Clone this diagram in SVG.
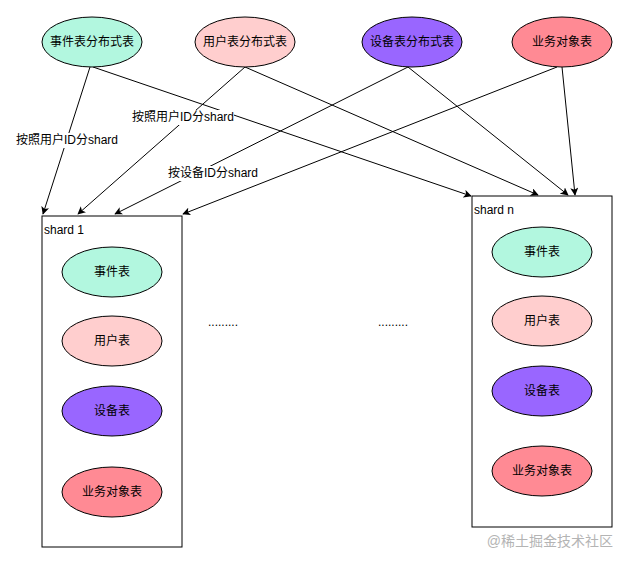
<svg xmlns="http://www.w3.org/2000/svg" width="629" height="563" viewBox="0 0 629 563">
<defs>
<marker id="arr" viewBox="0 0 10 10" refX="9" refY="5" markerWidth="8" markerHeight="8" markerUnits="userSpaceOnUse" orient="auto">
<path d="M0,0 L10,5 L0,10 L2.5,5 Z" fill="#000"/>
</marker>
</defs>
<style>
text{font-family:"Liberation Sans","Noto Sans CJK SC",sans-serif;font-size:12px;fill:#000}
.c{text-anchor:middle;dominant-baseline:central}
.e{stroke:#000;stroke-width:1}
.ev{fill:#b2f7df}.us{fill:#ffcece}.de{fill:#9966ff}.bo{fill:#ff8a94}
.ln{stroke:#000;stroke-width:1;fill:none;marker-end:url(#arr)}
.box{fill:#fff;stroke:#000;stroke-width:1}
.lb{fill:#fff}
</style>
<rect width="629" height="563" fill="#fff"/>
<g id="connectors">
<line class="ln" x1="90" y1="67" x2="43" y2="214"/>
<line class="ln" x1="93" y1="67" x2="471" y2="196"/>
<line class="ln" x1="245" y1="67" x2="78" y2="214"/>
<line class="ln" x1="245" y1="67" x2="538" y2="195"/>
<line class="ln" x1="408" y1="67" x2="115" y2="214"/>
<line class="ln" x1="408" y1="67" x2="568" y2="195"/>
<line class="ln" x1="557" y1="67" x2="183" y2="214"/>
<line class="ln" x1="562" y1="67" x2="575" y2="195"/>
<rect class="lb" x="15" y="133" width="103" height="15"/>
<text x="16" y="140" dominant-baseline="central">按照用户ID分shard</text>
<rect class="lb" x="131" y="110" width="103" height="15"/>
<text x="132" y="117" dominant-baseline="central">按照用户ID分shard</text>
<rect class="lb" x="167" y="166" width="91" height="15"/>
<text x="168" y="173" dominant-baseline="central">按设备ID分shard</text>
</g>
<g id="n-event-dist"><ellipse class="e ev" cx="92" cy="42" rx="50" ry="25"/><text class="c" x="92" y="42">事件表分布式表</text></g>
<g id="n-user-dist"><ellipse class="e us" cx="245" cy="42" rx="50" ry="25"/><text class="c" x="245" y="42">用户表分布式表</text></g>
<g id="n-device-dist"><ellipse class="e de" cx="412" cy="42" rx="50" ry="25"/><text class="c" x="412" y="42">设备表分布式表</text></g>
<g id="n-bo"><ellipse class="e bo" cx="562" cy="42" rx="50" ry="25"/><text class="c" x="562" y="42">业务对象表</text></g>
<g id="shard1">
<rect class="box" x="42" y="216" width="140" height="331"/>
<text x="44" y="230" dominant-baseline="central">shard 1</text>
</g>
<g id="s1-event"><ellipse class="e ev" cx="112" cy="272" rx="50" ry="25"/><text class="c" x="112" y="272">事件表</text></g>
<g id="s1-user"><ellipse class="e us" cx="112" cy="341" rx="50" ry="25"/><text class="c" x="112" y="341">用户表</text></g>
<g id="s1-device"><ellipse class="e de" cx="112" cy="411" rx="50" ry="25"/><text class="c" x="112" y="411">设备表</text></g>
<g id="s1-bo"><ellipse class="e bo" cx="112" cy="492" rx="50" ry="25"/><text class="c" x="112" y="492">业务对象表</text></g>
<g id="shardn">
<rect class="box" x="472" y="196" width="140" height="331"/>
<text x="474" y="210" dominant-baseline="central">shard n</text>
</g>
<g id="sn-event"><ellipse class="e ev" cx="542" cy="252" rx="50" ry="25"/><text class="c" x="542" y="252">事件表</text></g>
<g id="sn-user"><ellipse class="e us" cx="542" cy="321" rx="50" ry="25"/><text class="c" x="542" y="321">用户表</text></g>
<g id="sn-device"><ellipse class="e de" cx="542" cy="391" rx="50" ry="25"/><text class="c" x="542" y="391">设备表</text></g>
<g id="sn-bo"><ellipse class="e bo" cx="542" cy="471" rx="50" ry="25"/><text class="c" x="542" y="471">业务对象表</text></g>
<g id="dots">
<text x="208" y="322" dominant-baseline="central">.........</text>
<text x="378" y="322" dominant-baseline="central">.........</text>
</g>
<text x="613" y="541" text-anchor="end" dominant-baseline="central" style="font-size:14px;fill:#b4b4b4">@稀土掘金技术社区</text>
</svg>
